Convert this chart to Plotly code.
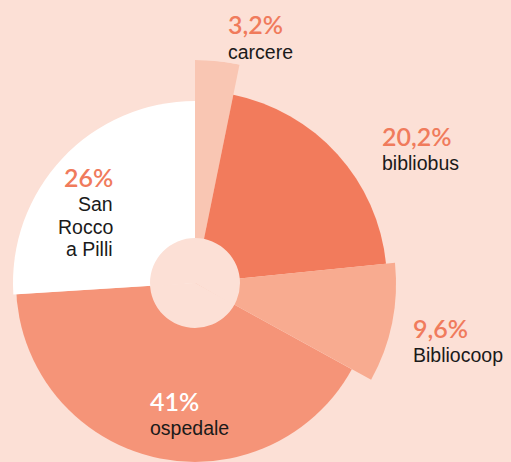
import numpy as np
import plotly.graph_objects as go

# ---- data ----
labels = ["carcere", "bibliobus", "Bibliocoop", "ospedale", "San Rocco a Pilli"]
pct_text = ["3,2%", "20,2%", "9,6%", "41%", "26%"]
shares = [3.2, 20.2, 9.6, 41.0, 26.0]            # percent of total (angle)
radius = [223, 192, 201, 183, 182]               # relative slice length
colors = ["#F9C6B3", "#F27B5C", "#F8AB90", "#F59478", "#FFFFFF"]
hole_r = 45

BG = "#FCE0D6"
SALMON = "#F07B5C"
INK = "#1A1A1A"

shares = np.array(shares)
widths = shares * 3.6
starts = np.concatenate([[0], np.cumsum(widths)[:-1]])
mids = starts + widths / 2

W, H = 511, 462
CX, CY = 195, 283          # pie centre in pixels (from top-left)
R1 = H - CY                # frame radius of the full-circle subplot
R2 = 223                   # frame radius of the upper-right sector subplot
R3 = CX                    # frame radius of the upper-left sector subplot

# which polar frame draws each slice (sector frames allow longer slices)
sub_of = ["polar2", "polar2", "polar2", "polar", "polar3"]

fig = go.Figure()
for sub in ["polar", "polar2", "polar3"]:
    idx = [i for i, s in enumerate(sub_of) if s == sub]
    fig.add_trace(go.Barpolar(
        r=[radius[i] for i in idx], theta=[mids[i] for i in idx],
        width=[widths[i] for i in idx],
        marker=dict(color=[colors[i] for i in idx], line=dict(width=0)),
        hoverinfo="skip", showlegend=False, subplot=sub,
    ))
    fig.add_trace(go.Barpolar(
        r=[hole_r], theta=[180], width=[360],
        marker=dict(color=BG, line=dict(width=0)),
        hoverinfo="skip", showlegend=False, subplot=sub,
    ))

def px(x):
    return x / W
def py(y):
    return 1 - y / H

pfont = dict(family="Lato", size=25, color=SALMON, weight=600)
lfont = dict(family="Liberation Sans", size=19.5, color=INK)

ann = []
place = {
    "carcere": (226, 24, 52, "left"),
    "bibliobus": (380, 136, 163, "left"),
    "Bibliocoop": (411, 328, 355, "left"),
    "ospedale": (148, 401, 428, "left"),
}
for lab, pt in zip(labels, pct_text):
    if lab in place:
        x, yp, yl, xa = place[lab]
        f = dict(pfont)
        if lab == "ospedale":
            f["color"] = "#FFFFFF"
        ann.append(dict(x=px(x), y=py(yp), text=pt, showarrow=False,
                        xanchor=xa, yanchor="middle", font=f,
                        xref="paper", yref="paper"))
        ann.append(dict(x=px(x), y=py(yl), text=lab, showarrow=False,
                        xanchor=xa, yanchor="middle", font=lfont,
                        xref="paper", yref="paper"))

sr_lines = ["San", "Rocco", "a Pilli"]
ann.append(dict(x=px(115), y=py(177), text=pct_text[4], showarrow=False,
                xanchor="right", yanchor="middle", font=pfont,
                xref="paper", yref="paper"))
for i, t in enumerate(sr_lines):
    ann.append(dict(x=px(115), y=py(204 + i * 22.7), text=t, showarrow=False,
                    xanchor="right", yanchor="middle", font=lfont,
                    xref="paper", yref="paper"))

common_ang = dict(rotation=90, direction="clockwise", visible=False, showgrid=False)
s3 = np.sin(np.radians(185))
fig.update_layout(
    width=W, height=H,
    margin=dict(l=0, r=0, t=0, b=0),
    paper_bgcolor=BG, plot_bgcolor=BG,
    polar=dict(
        domain=dict(x=[(CX - R1) / W, (CX + R1) / W], y=[0, 2 * R1 / H]),
        bgcolor="rgba(0,0,0,0)",
        barmode="overlay",
        angularaxis=common_ang,
        radialaxis=dict(range=[0, R1], visible=False, showgrid=False),
    ),
    polar2=dict(
        sector=[-30, 90],
        domain=dict(x=[CX / W, (CX + R2) / W],
                    y=[py(CY + 0.5 * R2), py(CY - R2)]),
        bgcolor="rgba(0,0,0,0)",
        barmode="overlay",
        angularaxis=common_ang,
        radialaxis=dict(range=[0, R2], visible=False, showgrid=False),
    ),
    polar3=dict(
        sector=[90, 185],
        domain=dict(x=[(CX - R3) / W, CX / W],
                    y=[py(CY - s3 * R3), py(CY - R3)]),
        bgcolor="rgba(0,0,0,0)",
        barmode="overlay",
        angularaxis=common_ang,
        radialaxis=dict(range=[0, R3], visible=False, showgrid=False),
    ),
    annotations=ann,
    showlegend=False,
)

fig.write_html(
    "out.html",
    config={"displayModeBar": False},
    post_script="document.body.style.margin='0';document.body.style.overflow='hidden';",
)
